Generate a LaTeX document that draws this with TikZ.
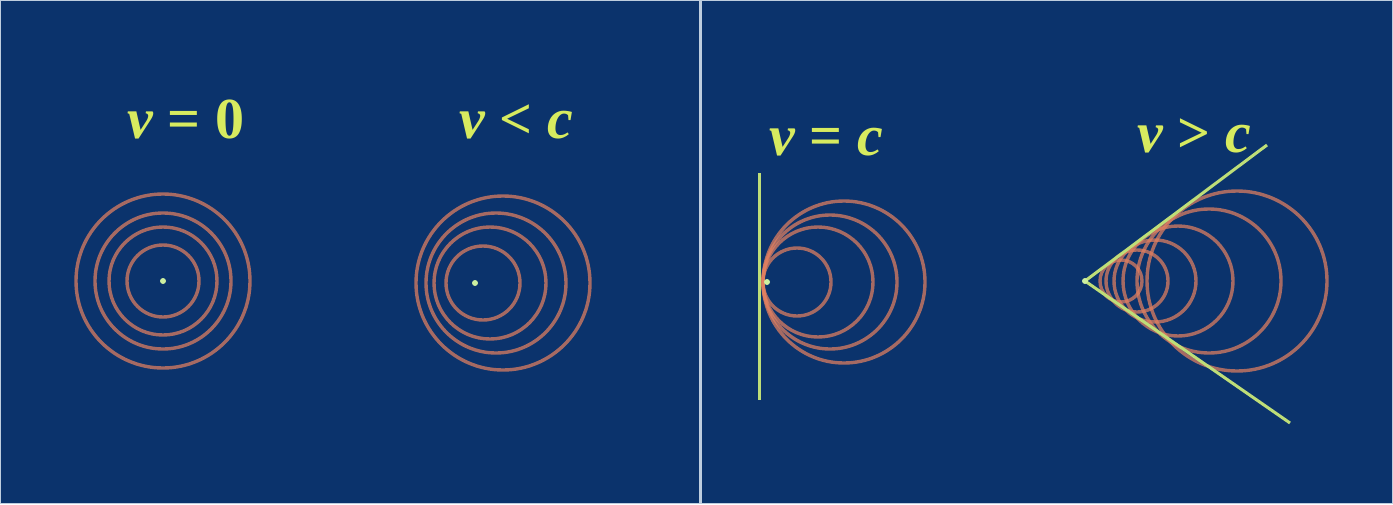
\documentclass[tikz,border=0pt]{standalone}
\usepackage{fontspec}
\setmainfont{Liberation Serif}
\definecolor{bgblue}{RGB}{11,51,108}
\definecolor{wavecol}{RGB}{226,128,96}
\definecolor{frontcol}{RGB}{190,222,120}
\definecolor{textcol}{RGB}{215,235,95}
\definecolor{dotcol}{RGB}{205,240,160}
\definecolor{framecol}{RGB}{190,205,222}
\tikzset{
  wave/.style = {draw=wavecol, draw opacity=0.72, line width=3.4pt},
  front/.style = {draw=frontcol, line width=3pt},
  vlabel/.style = {text=textcol, anchor=base, inner sep=0pt,
                   font=\fontsize{58}{60}\selectfont\bfseries},
  srcdot/.style = {fill=dotcol}
}

\begin{document}
\begin{tikzpicture}[x=1pt, y=-1pt]
	%%%	Sfondo
	\useasboundingbox (0,0) rectangle (1393,504);
	\fill[bgblue] (0,0) rectangle (1393,504);
	\draw[framecol, line width=1.2pt] (0.6,0.6) rectangle (1392.4,503.4);
	\draw[framecol, line width=3pt] (700,0) -- (700,504);
	
	%%%	Sorgenti
	\coordinate (s0) at (163,281);
	\coordinate (s1) at (475,283);
	\coordinate (s2) at (763,282);
	\coordinate (s3) at (1085,281);
	
	%%%	v = 0
	\node[vlabel] (lblrest) at (186,138) {\itshape v\upshape{} = 0};
	\draw[wave] (s0) circle (36pt);
	\draw[wave] (s0) circle (54pt);
	\draw[wave] (s0) circle (68pt);
	\draw[wave] (s0) circle (87pt);
	\fill[srcdot] (s0) circle (3pt);
	
	%%%	v < c
	\node[vlabel] (lblsub) at (516,138) {\itshape v\upshape{} < \itshape c};
	\draw[wave] (483,283) circle (37pt);
	\draw[wave] (490,283) circle (56pt);
	\draw[wave] (496,283) circle (70pt);
	\draw[wave] (503,283) circle (87pt);
	\fill[srcdot] (s1) circle (3pt);
	
	%%%	v = c
	\node[vlabel] (lblsonic) at (826,155) {\itshape v\upshape{} = \itshape c};
	\coordinate (frontT) at (759,173);
	\coordinate (frontB) at (759,400);
	\draw[wave] (797,282) circle (34pt);
	\draw[wave] (818,282) circle (55pt);
	\draw[wave] (830,282) circle (67pt);
	\draw[wave] (844,282) circle (81pt);
	\draw[front] (frontT) -- (frontB);
	\fill[srcdot] (767,282) circle (3pt);
	
	%%%	v > c
	\node[vlabel] (lblsuper) at (1194,152) {\itshape v\upshape{} > \itshape c};
	\coordinate (coneT) at (1267,145);
	\coordinate (coneB) at (1290,423);
	\draw[wave] (1121,281) circle (21pt);
	\draw[wave] (1137,281) circle (31pt);
	\draw[wave] (1155,281) circle (41pt);
	\draw[wave] (1178,281) circle (55pt);
	\draw[wave] (1209,281) circle (72pt);
	\draw[wave] (1237,281) circle (90pt);
	\draw[front] (coneT) -- (s3) -- (coneB);
	\fill[srcdot] (s3) circle (3pt);
	
\end{tikzpicture}
\end{document}
